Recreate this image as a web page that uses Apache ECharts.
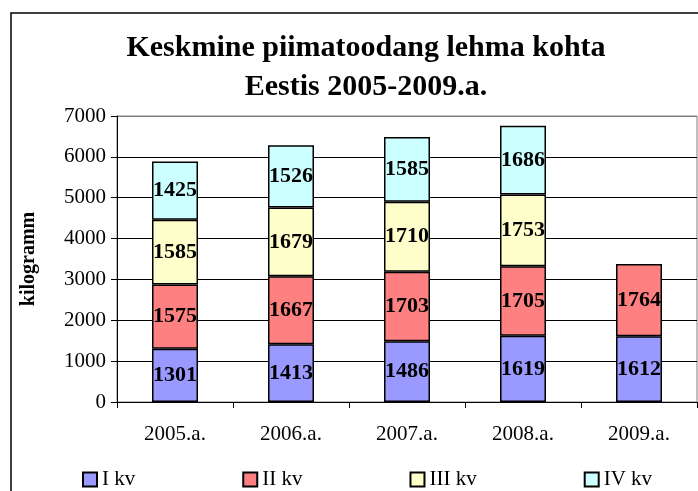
<!DOCTYPE html>
<html>
<head>
<meta charset="utf-8">
<script src="https://cdn.jsdelivr.net/npm/echarts@6/dist/echarts.min.js"></script>
<style>
  html, body { margin: 0; padding: 0; background: #fff; }
  #chart { width: 698px; height: 491px; }
</style>
</head>
<body>
<div id="chart"></div>
<script>
const years = ['2005.a.', '2006.a.', '2007.a.', '2008.a.', '2009.a.'];
const seriesNames = ['I kv', 'II kv', 'III kv', 'IV kv'];
const kv1 = [1301, 1413, 1486, 1619, 1612];
const kv2 = [1575, 1667, 1703, 1705, 1764];
const kv3 = [1585, 1679, 1710, 1753, null];
const kv4 = [1425, 1526, 1585, 1686, null];
const colors = ['#9999FF', '#FF8080', '#FFFFCC', '#CCFFFF'];

const serif = '"Liberation Serif", "Times New Roman", serif';
const chart = echarts.init(document.getElementById('chart'));

// one bar per quarter, all in the same stack
const series = [kv1, kv2, kv3, kv4].map((vals, i) => ({
  name: seriesNames[i],
  type: 'bar',
  stack: 'total',
  barWidth: 46,
  data: vals,
  itemStyle: { color: colors[i], borderColor: '#000', borderWidth: 1.5 },
  label: {
    show: true,
    position: 'inside',
    color: '#000',
    fontFamily: serif,
    fontWeight: 'bold',
    fontSize: 22
  },
  emphasis: { disabled: true }
}));

chart.setOption({
  animation: false,
  title: {
    text: 'Keskmine piimatoodang lehma kohta\nEestis 2005-2009.a.',
    left: 361,
    textAlign: 'center',
    top: 24,
    textStyle: {
      fontFamily: serif,
      fontWeight: 'bold',
      fontSize: 30,
      lineHeight: 39,
      color: '#000'
    }
  },
  graphic: [{
    type: 'rect',
    shape: { x: 11, y: 13, width: 720, height: 520 },
    style: { fill: 'none', stroke: '#000', lineWidth: 1.5 },
    silent: true
  }],
  legend: {
    data: seriesNames,
    left: 77,
    top: 464,
    itemWidth: 14,
    itemHeight: 14,
    itemGap: 107,
    icon: 'rect',
    textStyle: { fontFamily: serif, fontSize: 21, color: '#000' }
  },
  grid: {
    left: 117,
    right: 1,
    top: 116,
    bottom: 89,
    show: true,
    borderColor: '#808080',
    borderWidth: 1
  },
  xAxis: {
    type: 'category',
    data: years,
    axisLine: { lineStyle: { color: '#000', width: 1 } },
    axisTick: { show: true, length: 6, lineStyle: { color: '#000' } },
    axisLabel: { fontFamily: serif, fontSize: 21, color: '#000', margin: 22 }
  },
  yAxis: {
    type: 'value',
    min: 0,
    max: 7000,
    interval: 1000,
    name: 'kilogramm',
    nameLocation: 'middle',
    nameGap: 78,
    nameTextStyle: { fontFamily: serif, fontWeight: 'bold', fontSize: 20, color: '#000' },
    axisLine: { show: true, lineStyle: { color: '#000', width: 1 } },
    axisTick: { show: true, length: 6, lineStyle: { color: '#000' } },
    axisLabel: {
      fontFamily: serif, fontSize: 21, color: '#000', margin: 11,
      formatter: v => String(v)
    },
    splitLine: {
      show: true,
      lineStyle: {
        color: ['#000', '#000', '#000', '#000', '#000', '#000', '#000', '#808080'],
        width: 1
      }
    }
  },
  series: series
});
</script>
</body>
</html>
